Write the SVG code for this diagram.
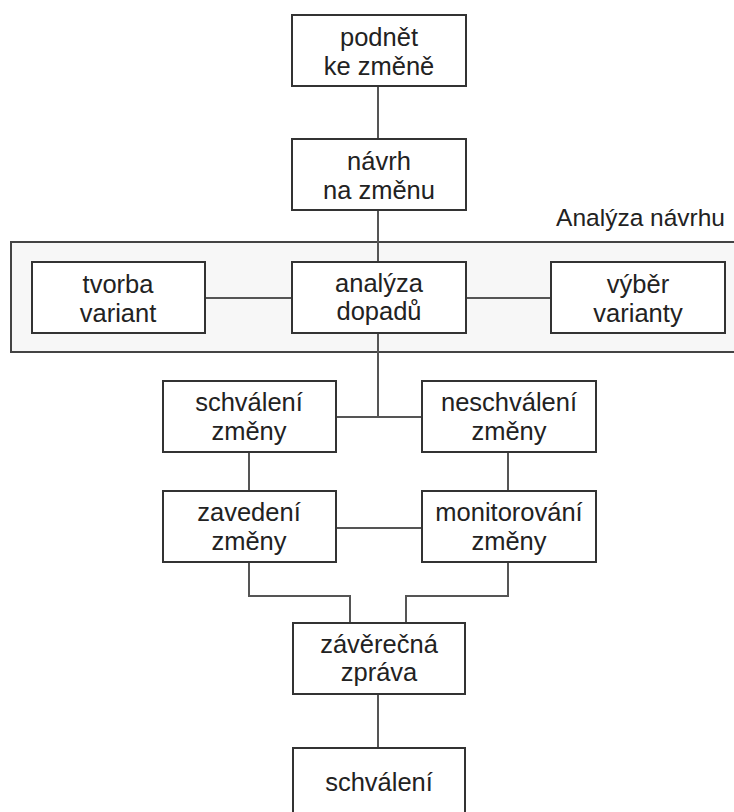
<svg xmlns="http://www.w3.org/2000/svg" width="734" height="812" viewBox="0 0 734 812">
<style>
.box{fill:#fff;stroke:#333;stroke-width:2}
.t{font-family:"Liberation Sans",Arial,sans-serif;font-size:25.5px;fill:#222;text-anchor:middle}
.c{fill:none;stroke:#555;stroke-width:2}
</style>
<rect width="734" height="812" fill="#fff"/>
<g id="group-analyza">
<rect x="11" y="242" width="726" height="110" fill="#f7f7f7" stroke="#444" stroke-width="2"/>
<text x="725" y="226" style="font-family:'Liberation Sans',Arial,sans-serif;font-size:24.5px;fill:#222;text-anchor:end">Analýza návrhu</text>
</g>
<g id="connectors">
<path class="c" d="M378 86V139"/>
<path class="c" d="M378 210V262"/>
<path class="c" d="M205 298H292"/>
<path class="c" d="M466 298H551"/>
<path class="c" d="M378 333V417"/>
<path class="c" d="M336 417H422"/>
<path class="c" d="M249 452V491"/>
<path class="c" d="M508 452V491"/>
<path class="c" d="M336 528H422"/>
<path class="c" d="M249 562V596H350V623"/>
<path class="c" d="M508 562V596H406V623"/>
<path class="c" d="M378 694V748"/>
</g>
<g id="n1"><rect class="box" x="292" y="15" width="174" height="71"/><text class="t" x="379" y="46">podnět</text><text class="t" x="379" y="75">ke změně</text></g>
<g id="n2"><rect class="box" x="292" y="139" width="174" height="71"/><text class="t" x="379" y="170">návrh</text><text class="t" x="379" y="199">na změnu</text></g>
<g id="n3"><rect class="box" x="32" y="262" width="173" height="71"/><text class="t" x="118" y="293">tvorba</text><text class="t" x="118" y="322">variant</text></g>
<g id="n4"><rect class="box" x="292" y="262" width="174" height="71"/><text class="t" x="379" y="292">analýza</text><text class="t" x="379" y="320">dopadů</text></g>
<g id="n5"><rect class="box" x="551" y="262" width="174" height="71"/><text class="t" x="638" y="293">výběr</text><text class="t" x="638" y="322">varianty</text></g>
<g id="n6"><rect class="box" x="163" y="381" width="173" height="71"/><text class="t" x="249" y="411">schválení</text><text class="t" x="249" y="440">změny</text></g>
<g id="n7"><rect class="box" x="422" y="381" width="174" height="71"/><text class="t" x="509" y="411">neschválení</text><text class="t" x="509" y="440">změny</text></g>
<g id="n8"><rect class="box" x="163" y="491" width="173" height="71"/><text class="t" x="249" y="521">zavedení</text><text class="t" x="249" y="550">změny</text></g>
<g id="n9"><rect class="box" x="422" y="491" width="174" height="71"/><text class="t" x="509" y="521">monitorování</text><text class="t" x="509" y="550">změny</text></g>
<g id="n10"><rect class="box" x="293" y="623" width="172" height="71"/><text class="t" x="379" y="653">závěrečná</text><text class="t" x="379" y="681">zpráva</text></g>
<g id="n11"><rect class="box" x="293" y="748" width="172" height="80"/><text class="t" x="379" y="791">schválení</text></g>
</svg>
